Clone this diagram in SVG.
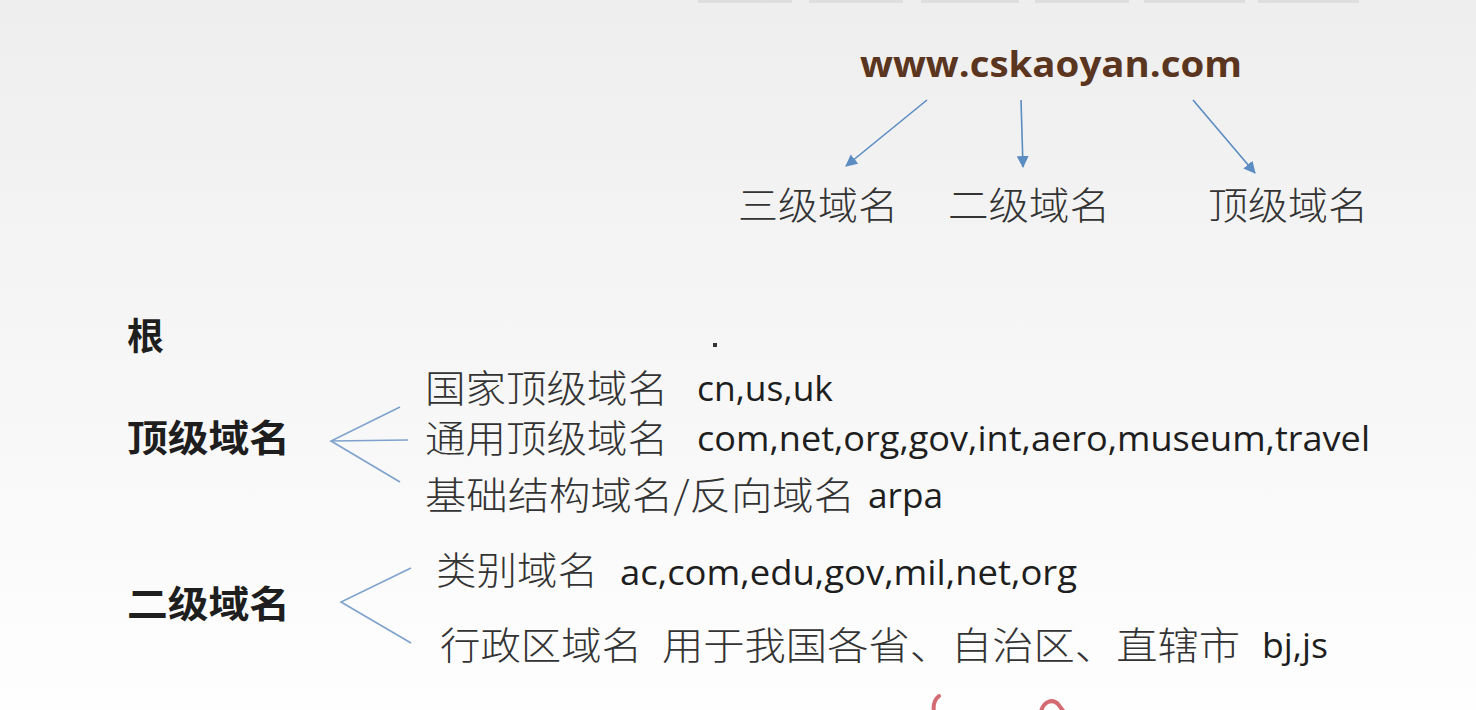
<svg xmlns="http://www.w3.org/2000/svg" width="1476" height="710" viewBox="0 0 1476 710">
<defs>
<linearGradient id="bg" x1="0" y1="0" x2="0" y2="1">
<stop offset="0" stop-color="#eeeeee"/>
<stop offset="0.5" stop-color="#f6f6f6"/>
<stop offset="1" stop-color="#fefefe"/>
</linearGradient>
<marker id="ah" markerWidth="12" markerHeight="12" refX="11" refY="6" orient="auto" markerUnits="userSpaceOnUse">
<path d="M0,0 L12,6 L0,12 Z" fill="#5b8cc2"/>
</marker>
<style>
.cj{font-family:"Noto Sans CJK SC","Noto Sans",sans-serif;fill:#333333;font-size:38px;font-weight:300}
.hd{font-family:"Noto Sans CJK SC","Noto Sans",sans-serif;fill:#1e1e1e;font-size:37px;font-weight:bold}
.la{font-family:"Open Sans","Noto Sans",sans-serif;fill:#1e1e1e;font-size:34px}
.url{font-family:"Open Sans","Noto Sans",sans-serif;fill:#5a3520;font-size:36px;font-weight:bold}
.arr{stroke:#5b8cc2;stroke-width:1.6;fill:none}
.br{stroke:#7ea2cc;stroke-width:1.6;fill:none}
.bar{fill:#dedede}
.red{stroke:#d46a72;stroke-width:4;fill:none;stroke-linecap:round}
</style>
</defs>
<rect width="1476" height="710" fill="url(#bg)"/>
<g id="topbars">
<rect class="bar" x="698" y="0" width="94" height="3"/>
<rect class="bar" x="809" y="0" width="94" height="3"/>
<rect class="bar" x="921" y="0" width="98" height="3"/>
<rect class="bar" x="1035" y="0" width="94" height="3"/>
<rect class="bar" x="1144" y="0" width="101" height="3"/>
<rect class="bar" x="1258" y="0" width="101" height="3"/>
</g>
<g id="url"><text class="url" x="860" y="77" textLength="382" lengthAdjust="spacingAndGlyphs">www.cskaoyan.com</text></g>
<g id="third"><text class="cj" x="738" y="219" textLength="160" lengthAdjust="spacingAndGlyphs">三级域名</text></g>
<g id="second"><text class="cj" x="948" y="219" textLength="162" lengthAdjust="spacingAndGlyphs">二级域名</text></g>
<g id="top"><text class="cj" x="1208" y="219" textLength="160" lengthAdjust="spacingAndGlyphs">顶级域名</text></g>
<g id="root"><text class="hd" x="127" y="350">根</text></g>
<g id="dot"><rect x="713" y="343" width="4" height="4" fill="#333"/></g>
<g id="tld"><text class="hd" x="127" y="452" textLength="163" lengthAdjust="spacingAndGlyphs">顶级域名</text></g>
<g id="sld"><text class="hd" x="127" y="618" textLength="163" lengthAdjust="spacingAndGlyphs">二级域名</text></g>
<g id="country"><text class="cj" x="425" y="402" textLength="243" lengthAdjust="spacingAndGlyphs">国家顶级域名</text><text class="la" x="697" y="401" textLength="136" lengthAdjust="spacingAndGlyphs">cn,us,uk</text></g>
<g id="generic"><text class="cj" x="425" y="452" textLength="243" lengthAdjust="spacingAndGlyphs">通用顶级域名</text><text class="la" x="697" y="451" textLength="673" lengthAdjust="spacingAndGlyphs">com,net,org,gov,int,aero,museum,travel</text></g>
<g id="infra"><text class="cj" x="425" y="509" textLength="430" lengthAdjust="spacingAndGlyphs">基础结构域名/反向域名</text><text class="la" x="868" y="508" textLength="75" lengthAdjust="spacingAndGlyphs">arpa</text></g>
<g id="category"><text class="cj" x="436" y="584" textLength="162" lengthAdjust="spacingAndGlyphs">类别域名</text><text class="la" x="620" y="585" textLength="457" lengthAdjust="spacingAndGlyphs">ac,com,edu,gov,mil,net,org</text></g>
<g id="region"><text class="cj" x="440" y="659" textLength="202" lengthAdjust="spacingAndGlyphs">行政区域名</text><text class="cj" x="662" y="659" textLength="578" lengthAdjust="spacingAndGlyphs">用于我国各省、自治区、直辖市</text><text class="la" x="1262" y="658" textLength="66" lengthAdjust="spacingAndGlyphs">bj,js</text></g>
<g id="connectors">
<line class="arr" x1="927" y1="100" x2="846" y2="166" marker-end="url(#ah)"/>
<line class="arr" x1="1021" y1="100" x2="1023" y2="167" marker-end="url(#ah)"/>
<line class="arr" x1="1193" y1="100" x2="1255" y2="173" marker-end="url(#ah)"/>
<polyline class="br" points="400,407 331,441 400,482"/>
<line class="br" x1="331" y1="441" x2="408" y2="440"/>
<polyline class="br" points="411,568 341,602 411,643"/>
</g>
<g id="marks">
<path class="red" d="M939,696 C934,700 933,706 934,712"/>
<path class="red" d="M1041,712 C1043,702 1052,698 1058,704 L1064,712"/>
</g>
</svg>
